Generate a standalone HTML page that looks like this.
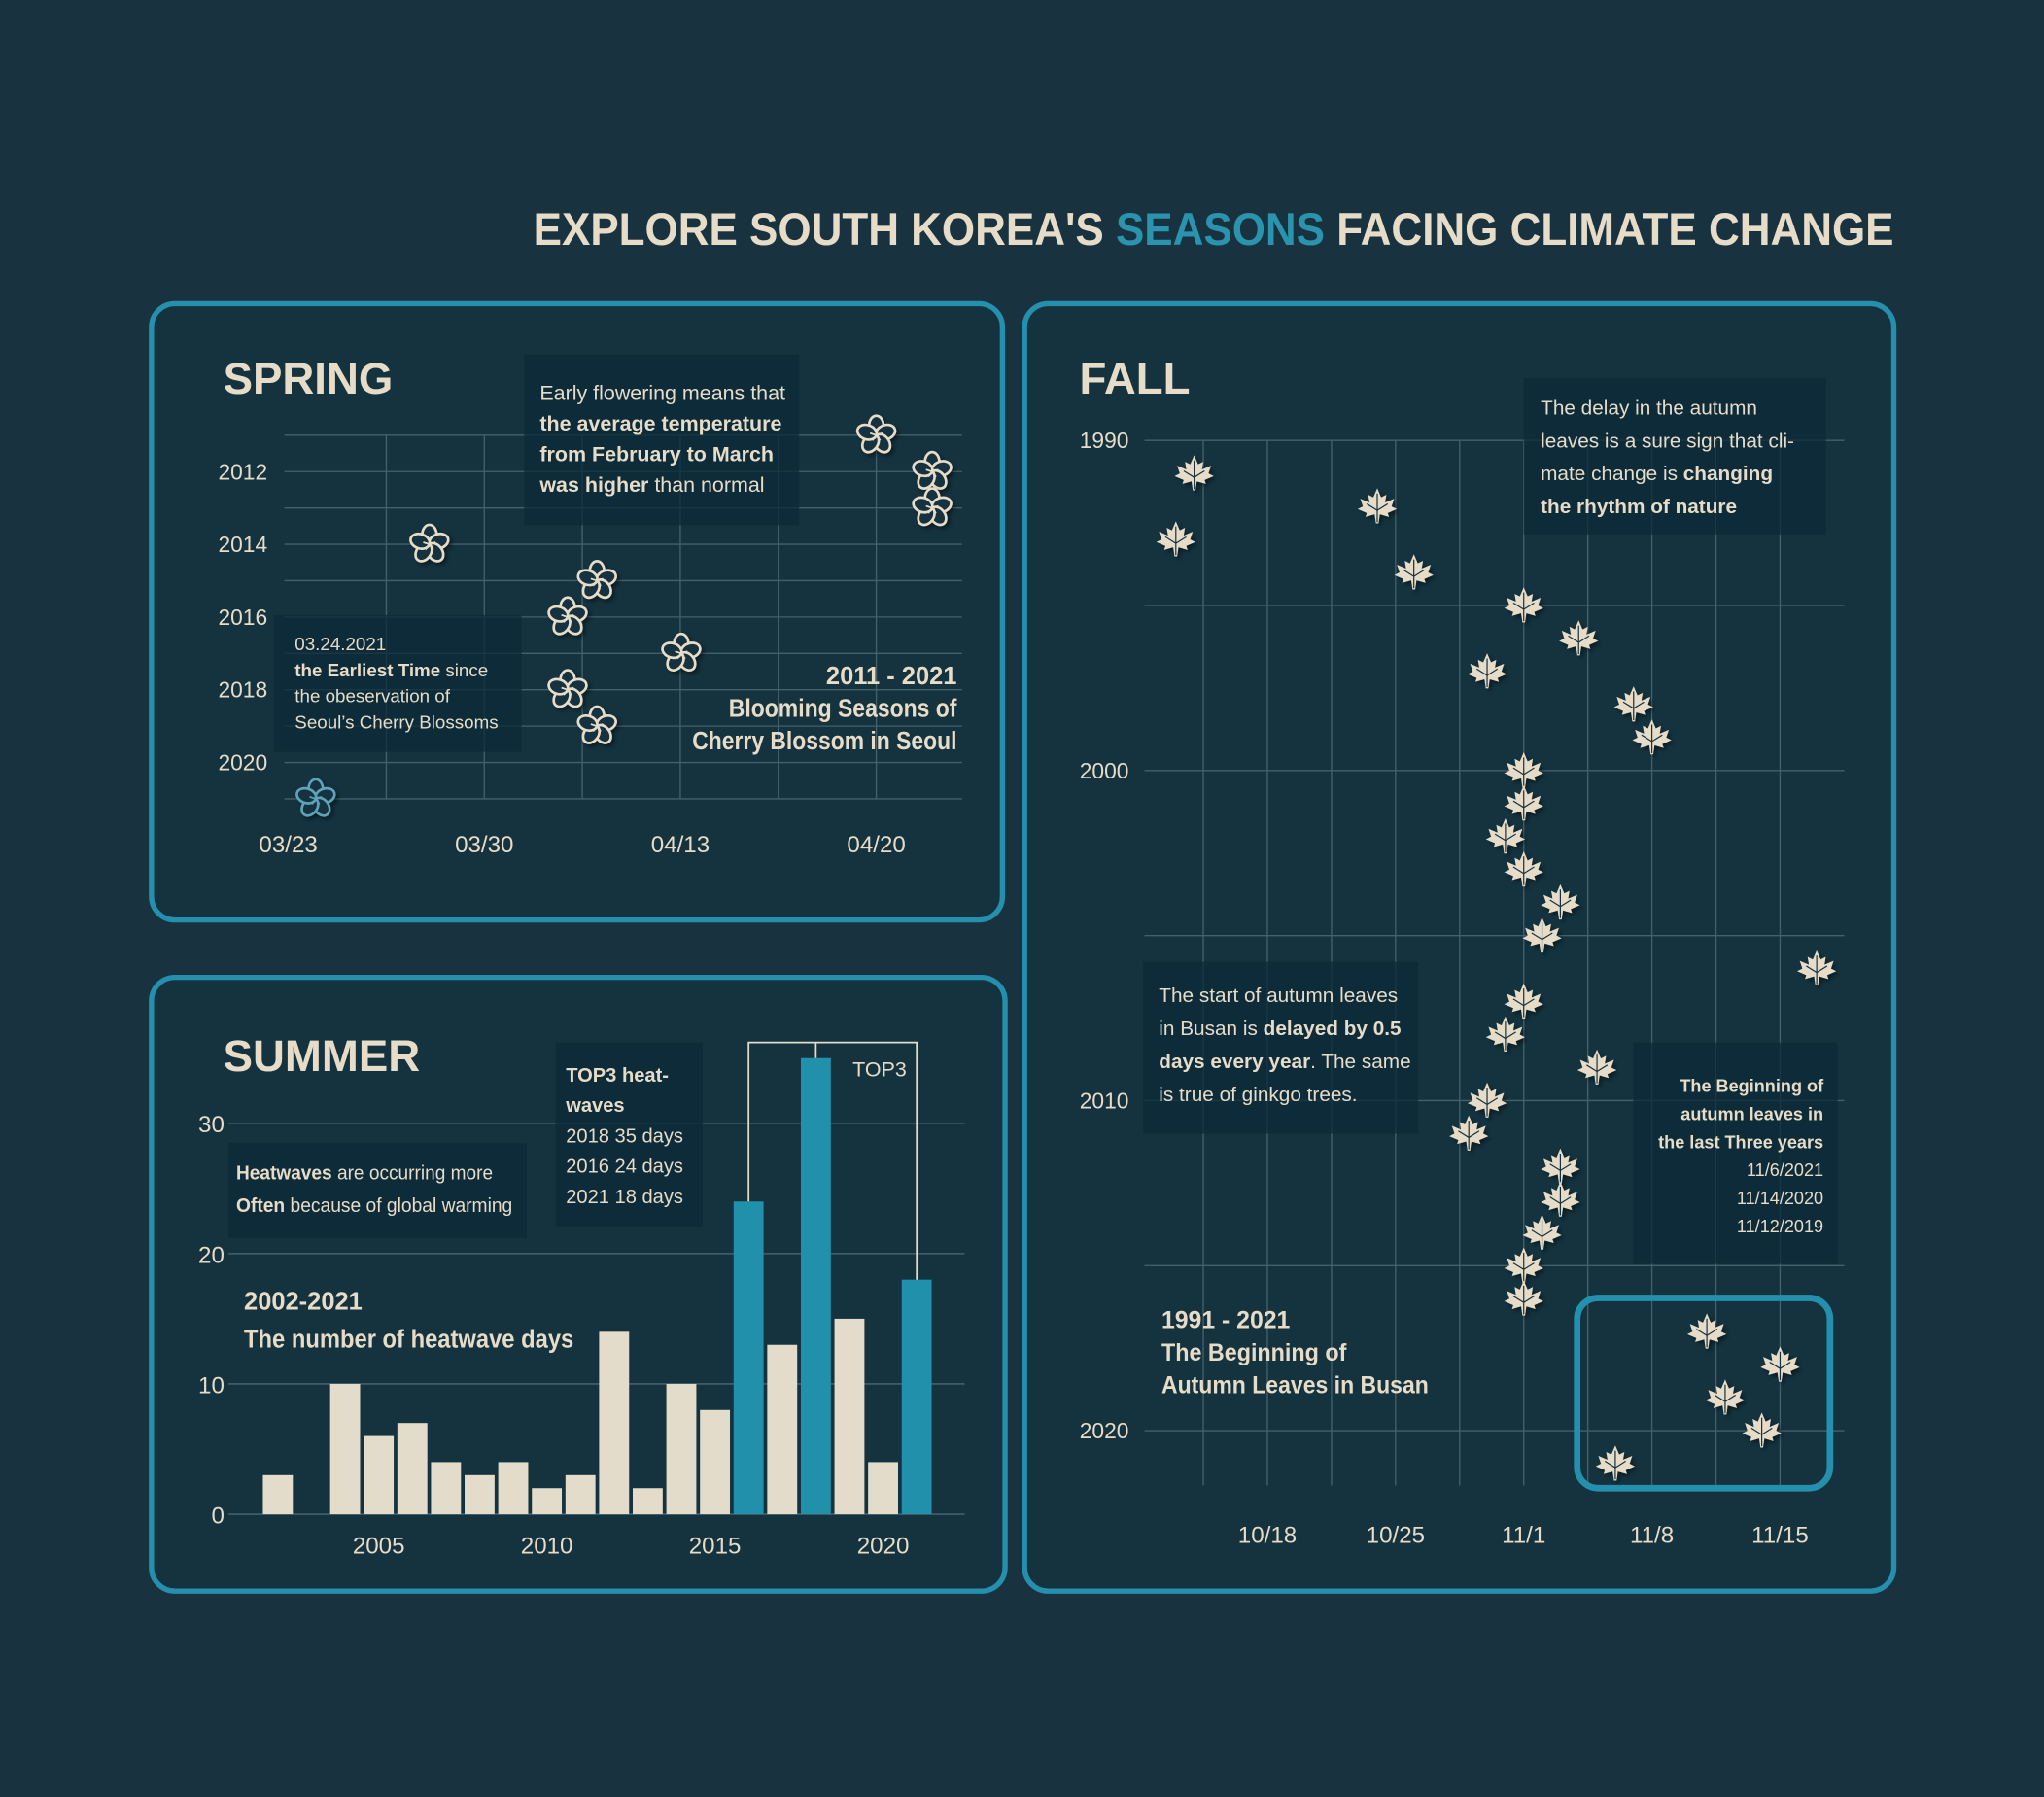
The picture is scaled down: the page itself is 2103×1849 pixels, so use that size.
<!DOCTYPE html>
<html><head><meta charset="utf-8"><style>
html,body{margin:0;padding:0;background:#19323f;}
svg{display:block;}
text{font-family:"Liberation Sans Narrow","Liberation Sans",sans-serif;fill:#e6dcc8;}
.t{font-family:"Liberation Sans",sans-serif;}
</style></head><body>
<svg id="root" width="2103" height="1849" viewBox="0 0 1568 1379" xmlns="http://www.w3.org/2000/svg">
<defs>
<filter id="sh" x="-50%" y="-50%" width="200%" height="200%"><feDropShadow dx="2" dy="2" stdDeviation="1.5" flood-color="#000" flood-opacity="0.45"/></filter>
</defs>
<rect x="0" y="0" width="1568" height="1379" fill="#19323f"/>
<text class="t" x="1453" y="188" text-anchor="end" font-size="35" font-weight="bold" textLength="1044" lengthAdjust="spacingAndGlyphs">EXPLORE SOUTH KOREA'S <tspan fill="#2a93ad">SEASONS</tspan> FACING CLIMATE CHANGE</text>

<rect x="116" y="233" width="653" height="473" rx="18" fill="#14333f" stroke="#2590ad" stroke-width="4"/>
<rect x="786" y="233" width="667" height="988" rx="18" fill="#14333f" stroke="#2590ad" stroke-width="4"/>
<rect x="116" y="750" width="655" height="471" rx="18" fill="#14333f" stroke="#2590ad" stroke-width="4"/>

<g id="spring"></g>
<g id="summer"></g>
<g id="fall"></g>
</svg>
<script>
// ---------- SPRING data ----------
const springYears = [2011,2012,2013,2014,2015,2016,2017,2018,2019,2020,2021];
const springBloom = [6.0,6.57,6.57,1.44,3.15,2.85,4.01,2.85,3.15,null,0.28]; // grid units after 03/23
const springYTicks = [2012,2014,2016,2018,2020];
const springXTickPos = [0,2,4,6];
const springXTickLabels = ["03/23","03/30","04/13","04/20"];
// ---------- SUMMER data ----------
const summerYears = [2002,2003,2004,2005,2006,2007,2008,2009,2010,2011,2012,2013,2014,2015,2016,2017,2018,2019,2020,2021];
const summerDays = [3,0,10,6,7,4,3,4,2,3,14,2,10,8,24,13,35,15,4,18];
const summerTop3 = [2016,2018,2021];
const summerYTicks = [0,10,20,30];
const summerXTicks = [2005,2010,2015,2020];
// ---------- FALL data ----------
const fallYears = [1991,1992,1993,1994,1995,1996,1997,1998,1999,2000,2001,2002,2003,2004,2005,2006,2007,2008,2009,2010,2011,2012,2013,2014,2015,2016,2017,2018,2019,2020,2021];
const fallDays = [-18,-8,-19,-6,0,3,-2,6,7,0,0,-1,0,2,1,16,0,-1,4,-2,-3,2,2,1,0,0,10,14,11,13,5]; // days from 11/1
const fallYTicks = [1990,2000,2010,2020];
const fallXTickDays = [-14,-7,0,7,14];
const fallXTickLabels = ["10/18","10/25","11/1","11/8","11/15"];

const NS="http://www.w3.org/2000/svg";
const CREAM="#e6dcc8", TEAL="#2590ad", GRID="#44606c";
function mk(tag,parent,attrs){const e=document.createElementNS(NS,tag);for(const k in attrs)e.setAttribute(k,attrs[k]);parent.appendChild(e);return e;}
function txt(parent,x,y,s,size,anchor,weight,fam){const t=mk('text',parent,{x:x,y:y,'font-size':size,'text-anchor':anchor||'start'});if(weight)t.setAttribute('font-weight',weight);if(fam)t.setAttribute('class','t');t.textContent=s;return t;}
function note(parent,x,y,w,h){return mk('rect',parent,{x:x,y:y,width:w,height:h,fill:'#0b2a37','fill-opacity':0.75});}

// ===== SPRING =====
const sp=document.getElementById('spring');
const sx=v=>221+v*75.2, sy=yr=>334+(yr-2011)*27.9;
const title1=txt(sp,171,302,"SPRING",34,'start','bold','t');


for(let yr=2011;yr<=2021;yr++){const l=mk('line',sp,{x1:218,x2:738,y1:sy(yr),y2:sy(yr),stroke:GRID,'stroke-width':1});

}
for(let i=1;i<=6;i++){const l=mk('line',sp,{x1:sx(i),x2:sx(i),y1:sy(2011),y2:sy(2021),stroke:GRID,'stroke-width':1});

}
springYTicks.forEach(v=>{const t=txt(sp,205,sy(v)+6,String(v),17,'end');

});
springXTickPos.forEach((p,i)=>{const t=txt(sp,sx(p),654,springXTickLabels[i],18,'middle');

});
let n1=note(sp,402,272,211,131);


let g=mk('text',sp,{x:414,y:307,'font-size':16});g.innerHTML='<tspan x="414">Early flowering means that</tspan><tspan x="414" dy="23.5" font-weight="bold">the average temperature</tspan><tspan x="414" dy="23.5" font-weight="bold">from February to March</tspan><tspan x="414" dy="23.5"><tspan font-weight="bold">was higher</tspan> than normal</tspan>';


let n2=note(sp,210,472,190,105);


g=mk('text',sp,{x:226,y:499,'font-size':14});g.innerHTML='<tspan x="226">03.24.2021</tspan><tspan x="226" dy="20"><tspan font-weight="bold">the Earliest Time</tspan> since</tspan><tspan x="226" dy="20">the obeservation of</tspan><tspan x="226" dy="20">Seoul’s Cherry Blossoms</tspan>';


g=mk('text',sp,{x:734,y:525,'font-size':19,'font-weight':'bold','text-anchor':'end'});g.innerHTML='<tspan x="734">2011 - 2021</tspan><tspan x="734" dy="25" textLength="175" lengthAdjust="spacingAndGlyphs">Blooming Seasons of</tspan><tspan x="734" dy="25" textLength="203" lengthAdjust="spacingAndGlyphs">Cherry Blossom in Seoul</tspan>';


springYears.forEach((yr,i)=>{const v=springBloom[i];if(v===null)return;
 const col=yr===2021?'#5ea3b8':CREAM;
 const f=mk('g',sp,{transform:`translate(${sx(v)},${sy(yr)})`,filter:'url(#sh)'});
 
 
 for(let k=0;k<5;k++)mk('ellipse',f,{cx:0,cy:-7.5,rx:5.5,ry:7.5,transform:`rotate(${k*72})`,fill:'#14333f',stroke:col,'stroke-width':2});
 for(let k=0;k<5;k++)mk('line',f,{x1:0,y1:0,x2:0,y2:-5,transform:`rotate(${k*72})`,stroke:col,'stroke-width':1.3});
});

// ===== SUMMER =====
const su=document.getElementById('summer');
const ux=yr=>213+(yr-2002)*25.8, uy=v=>1162-v*10;
const title2=txt(su,171,822,"SUMMER",34,'start','bold','t');


summerYTicks.forEach(v=>{const l=mk('line',su,{x1:175,x2:740,y1:uy(v),y2:uy(v),stroke:GRID,'stroke-width':1.2});


const t=txt(su,172,uy(v)+7,String(v),18,'end');

});
summerXTicks.forEach(v=>{const t=txt(su,ux(v),1192,String(v),18,'middle');

});
summerYears.forEach((yr,i)=>{const v=summerDays[i];
 const b=mk('rect',su,{x:ux(yr)-11.5,y:uy(v),width:23,height:v*10,fill:summerTop3.includes(yr)?'#2190ab':'#e4dcca'});
 
 });
const topY=800;
const br=mk('path',su,{d:`M${ux(2016)},${uy(summerDays[14])} V${topY} H${ux(2021)} V${uy(summerDays[19])} M${ux(2018)},${topY} V${uy(summerDays[16])}`,fill:'none',stroke:CREAM,'stroke-width':1.3});


let t3=txt(su,654,826,"TOP3",16,'start');


let n3=note(su,426,800,113,141);


g=mk('text',su,{x:434,y:830,'font-size':15});g.innerHTML='<tspan x="434" font-weight="bold">TOP3 heat-</tspan><tspan x="434" dy="23.3" font-weight="bold">waves</tspan><tspan x="434" dy="23.3">2018 35 days</tspan><tspan x="434" dy="23.3">2016 24 days</tspan><tspan x="434" dy="23.3">2021 18 days</tspan>';


let n4=note(su,175,877,229,73);


g=mk('text',su,{x:181,y:905,'font-size':15});g.innerHTML='<tspan x="181" textLength="197" lengthAdjust="spacingAndGlyphs"><tspan font-weight="bold">Heatwaves</tspan> are occurring more</tspan><tspan x="181" dy="25" textLength="212" lengthAdjust="spacingAndGlyphs"><tspan font-weight="bold">Often</tspan> because of global warming</tspan>';


g=mk('text',su,{x:187,y:1005,'font-size':19,'font-weight':'bold'});g.innerHTML='<tspan x="187">2002-2021</tspan><tspan x="187" dy="29" textLength="253" lengthAdjust="spacingAndGlyphs">The number of heatwave days</tspan>';



// ===== FALL =====
const fa=document.getElementById('fall');
const fx=d=>1169+d*14.05, fy=yr=>338+(yr-1990)*25.33;
const title3=txt(fa,828,302,"FALL",34,'start','bold','t');


for(let yr=1990;yr<=2020;yr+=5){const l=mk('line',fa,{x1:878,x2:1415,y1:fy(yr),y2:fy(yr),stroke:GRID,'stroke-width':1});

}
for(let d=-17.5;d<=14;d+=3.5){const l=mk('line',fa,{x1:fx(d),x2:fx(d),y1:fy(1990),y2:1140,stroke:GRID,'stroke-width':1});

}
fallYTicks.forEach(v=>{const t=txt(fa,866,fy(v)+6,String(v),17,'end','','t');

});
fallXTickDays.forEach((d,i)=>{const t=txt(fa,fx(d),1184,fallXTickLabels[i],18,'middle','','t');

});
let n5=note(fa,1169,290,232,120);


g=mk('text',fa,{x:1182,y:318,'font-size':15.5,class:'t'});g.innerHTML='<tspan x="1182">The delay in the autumn</tspan><tspan x="1182" dy="25.3">leaves is a sure sign that cli-</tspan><tspan x="1182" dy="25.3">mate change is <tspan font-weight="bold">changing</tspan></tspan><tspan x="1182" dy="25.3" font-weight="bold">the rhythm of nature</tspan>';


let n6=note(fa,877,738,211,132);


g=mk('text',fa,{x:889,y:769,'font-size':15.5,class:'t'});g.innerHTML='<tspan x="889">The start of autumn leaves</tspan><tspan x="889" dy="25.3">in Busan is <tspan font-weight="bold">delayed by 0.5</tspan></tspan><tspan x="889" dy="25.3"><tspan font-weight="bold">days every year</tspan>. The same</tspan><tspan x="889" dy="25.3">is true of ginkgo trees.</tspan>';


let n7=note(fa,1253,800,157,170);


g=mk('text',fa,{x:1399,y:838,'font-size':13.5,class:'t','text-anchor':'end'});g.innerHTML='<tspan x="1399" font-weight="bold">The Beginning of</tspan><tspan x="1399" dy="21.5" font-weight="bold">autumn leaves in</tspan><tspan x="1399" dy="21.5" font-weight="bold">the last Three years</tspan><tspan x="1399" dy="21.5">11/6/2021</tspan><tspan x="1399" dy="21.5">11/14/2020</tspan><tspan x="1399" dy="21.5">11/12/2019</tspan>';


g=mk('text',fa,{x:891,y:1019,'font-size':18.5,class:'t','font-weight':'bold'});g.innerHTML='<tspan x="891">1991 - 2021</tspan><tspan x="891" dy="25" textLength="142" lengthAdjust="spacingAndGlyphs">The Beginning of</tspan><tspan x="891" dy="25" textLength="205" lengthAdjust="spacingAndGlyphs">Autumn Leaves in Busan</tspan>';


const hl=mk('rect',fa,{x:1210,y:996,width:194,height:146,rx:16,fill:'none',stroke:TEAL,'stroke-width':5});


const leafD="M0,-14 L3,-7 L7,-9 L6,-3 L13,-6 L11,0 L15,2 L8,5 L9,8 L2,6 L1,13 L-1,13 L-2,6 L-9,8 L-8,5 L-15,2 L-11,0 L-13,-6 L-6,-3 L-7,-9 L-3,-7 Z";
fallYears.forEach((yr,i)=>{
 const lf=mk('g',fa,{transform:`translate(${fx(fallDays[i])},${fy(yr)})`,filter:'url(#sh)'});
 
 
 mk('path',lf,{d:leafD,fill:CREAM});
 mk('path',lf,{d:'M0,-10 V12 M0,3 L-8,-2 M0,3 L8,-2',stroke:'#14333f','stroke-width':0.9,fill:'none'});
});
</script>
</body></html>
